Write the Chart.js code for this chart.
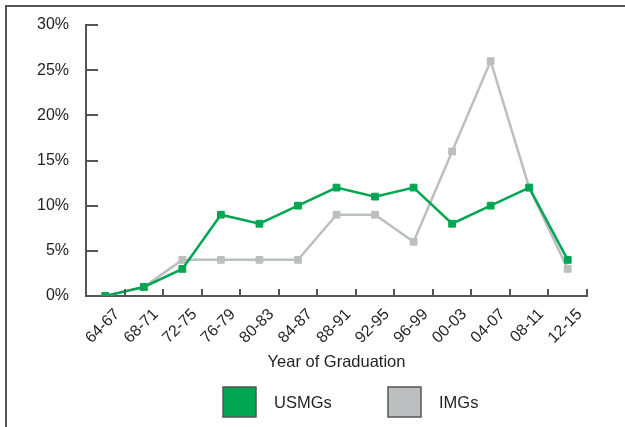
<!DOCTYPE html>
<html>
<head>
<meta charset="utf-8">
<script src="https://cdn.jsdelivr.net/npm/chart.js@4/dist/chart.umd.min.js"></script>
<style>
  body { margin: 0; background: #fff; }
  #wrap { width: 625px; height: 427px; position: relative; }
</style>
</head>
<body>
<div id="wrap"><canvas id="gradChart" width="625" height="427"></canvas></div>
<script>
const CATEGORIES = ["64-67","68-71","72-75","76-79","80-83","84-87","88-91","92-95","96-99","00-03","04-07","08-11","12-15"];
const USMG_VALUES = [0, 1, 3, 9, 8, 10, 12, 11, 12, 8, 10, 12, 4];
const IMG_VALUES = [0, 1, 4, 4, 4, 4, 9, 9, 6, 16, 26, 12, 3];
const Y_TICKS = [0, 5, 10, 15, 20, 25, 30];

const GREEN = "#00a651";
const GREY = "#bcbec0";
const AXIS = "#555555";
const TEXT = "#231f20";
const FONT = "Liberation Sans, Arial, sans-serif";

// frame lines + inside tick marks + legend
const decorPlugin = {
    id: "decor",
    beforeDraw(chart) {
        const ctx = chart.ctx;
        ctx.save();
        ctx.strokeStyle = AXIS;
        ctx.lineWidth = 2;
        ctx.beginPath();
        ctx.moveTo(6, chart.height);
        ctx.lineTo(6, 6);
        ctx.lineTo(chart.width, 6);
        ctx.stroke();
        ctx.restore();
    },
    afterDraw(chart) {
        const ctx = chart.ctx;
        const x = chart.scales.x, y = chart.scales.y;
        ctx.save();
        ctx.strokeStyle = AXIS;
        ctx.lineWidth = 2;
        ctx.beginPath();
        for (let i = 0; i <= CATEGORIES.length; i++) {
            const px = Math.round(x.getPixelForValue(i - 0.5));
            ctx.moveTo(px, y.bottom);
            ctx.lineTo(px, y.bottom - 7);
        }
        Y_TICKS.forEach(v => {
            const py = Math.round(y.getPixelForValue(v));
            ctx.moveTo(x.left, py);
            ctx.lineTo(x.left + 12, py);
        });
        ctx.stroke();

        // legend
        let lx = 223;
        const ly = 387;
        ctx.font = "16.5px " + FONT;
        ctx.textBaseline = "middle";
        ctx.textAlign = "left";
        chart.data.datasets.forEach(ds => {
            ctx.fillStyle = ds.legendFill;
            ctx.fillRect(lx, ly, 33, 30);
            ctx.lineWidth = 1.5;
            ctx.strokeStyle = AXIS;
            ctx.strokeRect(lx, ly, 33, 30);
            ctx.fillStyle = TEXT;
            ctx.fillText(ds.label, lx + 51, ly + 16);
            lx += 165;
        });
        ctx.restore();
    }
};

new Chart(document.getElementById("gradChart"), {
    type: "line",
    data: {
        labels: CATEGORIES,
        datasets: [
            {
                label: "USMGs",
                data: USMG_VALUES,
                borderColor: GREEN,
                backgroundColor: GREEN,
                legendFill: GREEN,
                borderWidth: 2.5,
                pointStyle: "rect",
                pointRadius: 4.8,
                pointBorderWidth: 1,
                tension: 0
            },
            {
                label: "IMGs",
                data: IMG_VALUES,
                borderColor: GREY,
                backgroundColor: GREY,
                legendFill: GREY,
                borderWidth: 2.5,
                pointStyle: "rect",
                pointRadius: 4.8,
                pointBorderWidth: 1,
                tension: 0
            }
        ]
    },
    options: {
        responsive: false,
        animation: false,
        layout: { padding: { left: 0, top: 25, right: 38, bottom: 0 } },
        plugins: {
            legend: { display: false },
            tooltip: { enabled: false }
        },
        scales: {
            x: {
                offset: true,
                grid: { display: false },
                border: { display: true, color: AXIS, width: 2 },
                afterFit: s => { s.height = 131; },
                ticks: {
                    color: TEXT,
                    font: { family: FONT, size: 16 },
                    minRotation: 45,
                    maxRotation: 45,
                    autoSkip: false,
                    labelOffset: 12,
                    padding: 1
                },
                title: {
                    display: true,
                    text: "Year of Graduation",
                    color: TEXT,
                    font: { family: FONT, size: 16.5 },
                    padding: { top: 0, bottom: 55 }
                }
            },
            y: {
                min: 0,
                max: 30,
                grid: { display: false },
                border: { display: true, color: AXIS, width: 2 },
                afterFit: s => { s.width = 86; },
                afterBuildTicks: s => { s.ticks = Y_TICKS.map(v => ({ value: v })); },
                ticks: {
                    color: TEXT,
                    font: { family: FONT, size: 16 },
                    padding: 9,
                    callback: v => v + "%"
                }
            }
        }
    },
    plugins: [decorPlugin]
});
</script>
</body>
</html>
